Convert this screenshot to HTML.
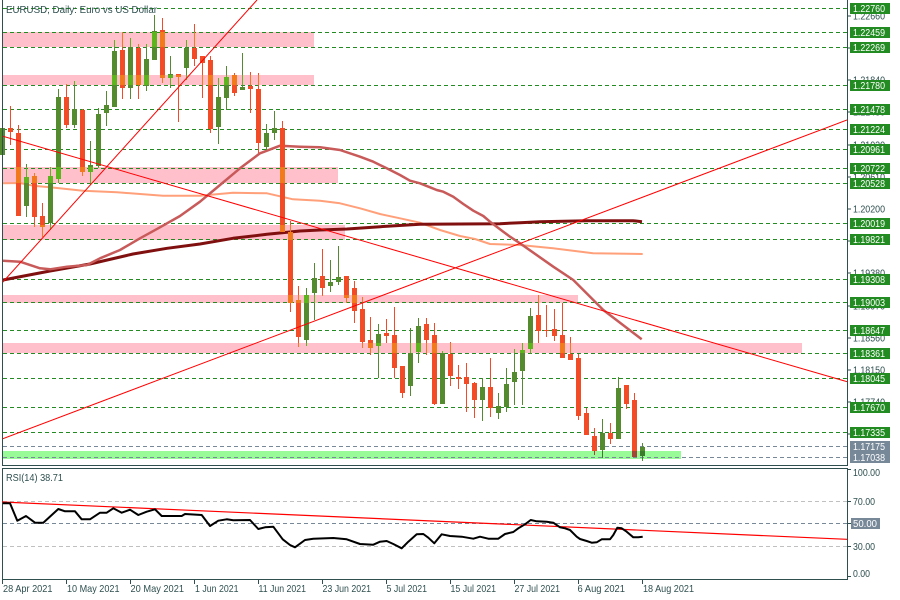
<!DOCTYPE html>
<html><head><meta charset="utf-8"><style>
html,body{margin:0;padding:0;background:#fff;}
svg{display:block;font-family:"Liberation Sans",sans-serif;}
.ax{fill:#2F4F4F;font-size:10px;}
.lb{fill:#fff;font-size:10px;}
.tm{fill:#2F4F4F;font-size:10.5px;}
</style></head><body>
<svg width="900" height="600" viewBox="0 0 900 600" xmlns="http://www.w3.org/2000/svg">
<defs>
<clipPath id="mainclip"><rect x="2" y="0" width="845" height="465"/></clipPath>
<clipPath id="rsiclip"><rect x="2" y="469" width="845" height="110"/></clipPath>
<clipPath id="pinkclip">
<rect x="2" y="32" width="312" height="15"/>
<rect x="2" y="75" width="312" height="10"/>
<rect x="2" y="167" width="336" height="16"/>
<rect x="2" y="225" width="343" height="15"/>
<rect x="2" y="295" width="576" height="8"/>
<rect x="2" y="343" width="800" height="10"/>
</clipPath>
<clipPath id="greenclip"><rect x="2" y="451" width="679" height="8"/></clipPath>
<g id="cd" shape-rendering="crispEdges">
<g>
<rect x="0" y="128" width="5" height="27"/><rect x="2" y="124" width="1" height="34"/>
<rect x="24" y="177" width="5" height="29"/><rect x="26" y="164" width="1" height="53"/>
<rect x="48" y="176" width="5" height="47"/><rect x="50" y="167" width="1" height="63"/>
<rect x="56" y="97" width="5" height="82"/><rect x="58" y="89" width="1" height="94"/>
<rect x="72" y="109" width="5" height="16"/><rect x="74" y="81" width="1" height="47"/>
<rect x="88" y="165" width="5" height="7"/><rect x="90" y="141" width="1" height="44"/>
<rect x="96" y="114" width="5" height="52"/><rect x="98" y="108" width="1" height="60"/>
<rect x="104" y="105" width="5" height="8"/><rect x="106" y="91" width="1" height="35"/>
<rect x="112" y="51" width="5" height="56"/><rect x="114" y="40" width="1" height="67"/>
<rect x="128" y="47" width="5" height="41"/><rect x="130" y="38" width="1" height="61"/>
<rect x="144" y="59" width="5" height="27"/><rect x="146" y="44" width="1" height="47"/>
<rect x="152" y="31" width="5" height="29"/><rect x="154" y="15" width="1" height="45"/>
<rect x="168" y="74" width="5" height="4"/><rect x="170" y="56" width="1" height="32"/>
<rect x="184" y="48" width="5" height="20"/><rect x="186" y="40" width="1" height="40"/>
<rect x="216" y="97" width="5" height="30"/><rect x="218" y="78" width="1" height="66"/>
<rect x="224" y="77" width="5" height="21"/><rect x="226" y="66" width="1" height="44"/>
<rect x="240" y="87" width="5" height="3"/><rect x="242" y="53" width="1" height="37"/>
<rect x="264" y="133" width="5" height="14"/><rect x="266" y="124" width="1" height="26"/>
<rect x="272" y="128" width="5" height="5"/><rect x="274" y="111" width="1" height="29"/>
<rect x="304" y="295" width="5" height="45"/><rect x="306" y="288" width="1" height="58"/>
<rect x="312" y="278" width="5" height="15"/><rect x="314" y="263" width="1" height="57"/>
<rect x="328" y="282" width="5" height="4"/><rect x="330" y="260" width="1" height="32"/>
<rect x="336" y="277" width="5" height="5"/><rect x="338" y="246" width="1" height="39"/>
<rect x="376" y="334" width="5" height="12"/><rect x="378" y="324" width="1" height="54"/>
<rect x="408" y="353" width="5" height="33"/><rect x="410" y="328" width="1" height="68"/>
<rect x="416" y="326" width="5" height="26"/><rect x="418" y="318" width="1" height="45"/>
<rect x="440" y="353" width="5" height="51"/><rect x="442" y="351" width="1" height="53"/>
<rect x="480" y="387" width="5" height="13"/><rect x="482" y="378" width="1" height="43"/>
<rect x="496" y="406" width="5" height="7"/><rect x="498" y="393" width="1" height="26"/>
<rect x="504" y="384" width="5" height="23"/><rect x="506" y="368" width="1" height="44"/>
<rect x="512" y="372" width="5" height="10"/><rect x="514" y="349" width="1" height="56"/>
<rect x="520" y="350" width="5" height="21"/><rect x="522" y="343" width="1" height="62"/>
<rect x="528" y="316" width="5" height="33"/><rect x="530" y="308" width="1" height="46"/>
<rect x="600" y="433" width="5" height="17"/><rect x="602" y="419" width="1" height="39"/>
<rect x="616" y="388" width="5" height="51"/><rect x="618" y="377" width="1" height="62"/>
<rect x="640" y="447" width="5" height="9"/><rect x="642" y="443" width="1" height="18"/>
</g>
<g fill="currentColor">
<rect x="8" y="128" width="5" height="4"/><rect x="10" y="106" width="1" height="39"/>
<rect x="16" y="133" width="5" height="83"/><rect x="18" y="125" width="1" height="91"/>
<rect x="32" y="176" width="5" height="41"/><rect x="34" y="173" width="1" height="54"/>
<rect x="40" y="216" width="5" height="11"/><rect x="42" y="203" width="1" height="34"/>
<rect x="64" y="97" width="5" height="28"/><rect x="66" y="84" width="1" height="44"/>
<rect x="80" y="110" width="5" height="62"/><rect x="82" y="109" width="1" height="67"/>
<rect x="120" y="50" width="5" height="38"/><rect x="122" y="32" width="1" height="67"/>
<rect x="136" y="48" width="5" height="37"/><rect x="138" y="44" width="1" height="55"/>
<rect x="160" y="30" width="5" height="48"/><rect x="162" y="18" width="1" height="65"/>
<rect x="176" y="74" width="5" height="3"/><rect x="178" y="74" width="1" height="48"/>
<rect x="192" y="48" width="5" height="11"/><rect x="194" y="24" width="1" height="42"/>
<rect x="200" y="56" width="5" height="7"/><rect x="202" y="56" width="1" height="42"/>
<rect x="208" y="60" width="5" height="69"/><rect x="210" y="56" width="1" height="77"/>
<rect x="232" y="75" width="5" height="18"/><rect x="234" y="73" width="1" height="23"/>
<rect x="248" y="86" width="5" height="3"/><rect x="250" y="72" width="1" height="41"/>
<rect x="256" y="89" width="5" height="54"/><rect x="258" y="73" width="1" height="80"/>
<rect x="280" y="128" width="5" height="104"/><rect x="282" y="121" width="1" height="111"/>
<rect x="288" y="232" width="5" height="71"/><rect x="290" y="221" width="1" height="91"/>
<rect x="296" y="300" width="5" height="37"/><rect x="298" y="286" width="1" height="61"/>
<rect x="320" y="276" width="5" height="12"/><rect x="322" y="249" width="1" height="47"/>
<rect x="344" y="276" width="5" height="22"/><rect x="346" y="276" width="1" height="27"/>
<rect x="352" y="288" width="5" height="23"/><rect x="354" y="281" width="1" height="42"/>
<rect x="360" y="309" width="5" height="33"/><rect x="362" y="297" width="1" height="51"/>
<rect x="368" y="340" width="5" height="8"/><rect x="370" y="317" width="1" height="38"/>
<rect x="384" y="333" width="5" height="3"/><rect x="386" y="319" width="1" height="24"/>
<rect x="392" y="335" width="5" height="33"/><rect x="394" y="307" width="1" height="71"/>
<rect x="400" y="366" width="5" height="27"/><rect x="402" y="366" width="1" height="32"/>
<rect x="424" y="324" width="5" height="16"/><rect x="426" y="318" width="1" height="37"/>
<rect x="432" y="335" width="5" height="69"/><rect x="434" y="323" width="1" height="82"/>
<rect x="448" y="354" width="5" height="22"/><rect x="450" y="342" width="1" height="44"/>
<rect x="456" y="377" width="5" height="2"/><rect x="458" y="365" width="1" height="24"/>
<rect x="464" y="377" width="5" height="7"/><rect x="466" y="363" width="1" height="49"/>
<rect x="472" y="383" width="5" height="17"/><rect x="474" y="382" width="1" height="36"/>
<rect x="488" y="387" width="5" height="21"/><rect x="490" y="358" width="1" height="59"/>
<rect x="536" y="315" width="5" height="16"/><rect x="538" y="295" width="1" height="48"/>
<rect x="544" y="330" width="5" height="1"/><rect x="546" y="305" width="1" height="32"/>
<rect x="552" y="329" width="5" height="7"/><rect x="554" y="309" width="1" height="32"/>
<rect x="560" y="335" width="5" height="23"/><rect x="562" y="303" width="1" height="55"/>
<rect x="568" y="354" width="5" height="6"/><rect x="570" y="337" width="1" height="23"/>
<rect x="576" y="358" width="5" height="58"/><rect x="578" y="354" width="1" height="66"/>
<rect x="584" y="413" width="5" height="22"/><rect x="586" y="408" width="1" height="27"/>
<rect x="592" y="436" width="5" height="15"/><rect x="594" y="428" width="1" height="27"/>
<rect x="608" y="433" width="5" height="6"/><rect x="610" y="423" width="1" height="21"/>
<rect x="624" y="385" width="5" height="19"/><rect x="626" y="385" width="1" height="24"/>
<rect x="632" y="400" width="5" height="57"/><rect x="634" y="393" width="1" height="64"/>
</g>
</g>
</defs>

<rect x="0" y="0" width="900" height="600" fill="#fff"/>

<!-- zones -->
<g fill="#FFC0CB" shape-rendering="crispEdges">
<rect x="2" y="32" width="312" height="15"/>
<rect x="2" y="75" width="312" height="10"/>
<rect x="2" y="167" width="336" height="16"/>
<rect x="2" y="225" width="343" height="15"/>
<rect x="2" y="295" width="576" height="8"/>
<rect x="2" y="343" width="800" height="10"/>
</g>
<rect x="2" y="451" width="679" height="8" fill="#98FB98" shape-rendering="crispEdges"/>

<!-- dashed level lines -->
<g stroke="#228B22" stroke-width="1" stroke-dasharray="4,3" shape-rendering="crispEdges">
<line x1="3" y1="8.5" x2="847" y2="8.5"/>
<line x1="3" y1="32.5" x2="847" y2="32.5"/>
<line x1="3" y1="47.5" x2="847" y2="47.5"/>
<line x1="3" y1="85.5" x2="847" y2="85.5"/>
<line x1="3" y1="109.5" x2="847" y2="109.5"/>
<line x1="3" y1="129.5" x2="847" y2="129.5"/>
<line x1="3" y1="149.5" x2="847" y2="149.5"/>
<line x1="3" y1="168.5" x2="847" y2="168.5"/>
<line x1="3" y1="183.5" x2="847" y2="183.5"/>
<line x1="3" y1="223.5" x2="847" y2="223.5"/>
<line x1="3" y1="239.5" x2="847" y2="239.5"/>
<line x1="3" y1="279.5" x2="847" y2="279.5"/>
<line x1="3" y1="302.5" x2="847" y2="302.5"/>
<line x1="3" y1="330.5" x2="847" y2="330.5"/>
<line x1="3" y1="353.5" x2="847" y2="353.5"/>
<line x1="3" y1="378.5" x2="847" y2="378.5"/>
<line x1="3" y1="407.5" x2="847" y2="407.5"/>
<line x1="3" y1="432.5" x2="847" y2="432.5"/>
</g>
<g stroke="#778899" stroke-width="1" stroke-dasharray="4,3" shape-rendering="crispEdges">
<line x1="3" y1="446.5" x2="847" y2="446.5"/>
<line x1="3" y1="457.5" x2="847" y2="457.5"/>
</g>

<g clip-path="url(#mainclip)" fill="none" stroke-linejoin="round">
<!-- moving averages -->
<polyline stroke="#FFA07A" stroke-width="2" points="3,183.3 20,183 33,185.7 50,187.3 83,190.7 117,192.3 163,195.7 200,195.7 233,192.7 267,193.3 293,199.3 320,200.7 340,203.3 360,208.3 380,214 400,218.3 420,222.7 440,230 460,236 475,239 490,244 520,245 553,248.3 593,253.3 642.7,254"/>
<polyline stroke="#801010" stroke-width="3" points="3,280 50,271 90,264 133,254 167,248.3 200,244 233,238.3 267,234.3 300,231 320,230 347,229 380,226.7 420,224.3 500,223.7 520,222.7 540,221.7 587,220.7 633,220.7 642,221.7"/>
<polyline stroke="#C85A5A" stroke-width="2.5" points="3,260.7 20,261.7 40,268.3 50,269.3 67,266.7 87,265 100,258.3 120,250 140,238.3 160,227.3 180,216 200,201.7 220,185 240,168.3 260,153.3 280,145.7 300,146.7 320,147.3 340,150 360,156.7 373.3,161.7 386.7,168.3 400,175 410,180.7 420,183.3 430,187.3 436.7,190 443.3,191.7 453.3,196.7 463.3,204 473.3,210.7 483.3,216 490,221.7 496.7,226.7 503.3,231.7 510,236.7 520,243.3 553.3,266.7 573.3,280 603.3,310 641.7,339.3"/>
</g>

<!-- candles -->
<use href="#cd" fill="#558B2F" color="#F24B26"/>
<use href="#cd" fill="#5CB51C" color="#F27A1A" clip-path="url(#pinkclip)"/>
<use href="#cd" fill="#3C7A2C" color="#A3463A" clip-path="url(#greenclip)"/>

<!-- trendlines -->
<g clip-path="url(#mainclip)" stroke="#FF0000" stroke-width="1" fill="none">
<line x1="2" y1="283" x2="257" y2="0"/>
<line x1="2" y1="136" x2="847" y2="381.7"/>
<line x1="2" y1="439" x2="847" y2="120"/>
</g>

<!-- frames -->
<g stroke="#2F4F4F" stroke-width="1" fill="none" shape-rendering="crispEdges">
<polyline points="2.5,0 2.5,465.5 847.5,465.5 847.5,0"/>
<rect x="2.5" y="468.5" width="845" height="111"/>
</g>

<text x="6" y="13" class="ax" textLength="151" lengthAdjust="spacingAndGlyphs">EURUSD, Daily:  Euro vs US Dollar</text>

<!-- price axis ticks -->
<g stroke="#2F4F4F" stroke-width="1" shape-rendering="crispEdges">
<line x1="847" y1="16" x2="851" y2="16"/>
<line x1="847" y1="48" x2="851" y2="48"/>
<line x1="847" y1="80" x2="851" y2="80"/>
<line x1="847" y1="112" x2="851" y2="112"/>
<line x1="847" y1="145" x2="851" y2="145"/>
<line x1="847" y1="177" x2="851" y2="177"/>
<line x1="847" y1="209" x2="851" y2="209"/>
<line x1="847" y1="241" x2="851" y2="241"/>
<line x1="847" y1="273" x2="851" y2="273"/>
<line x1="847" y1="306" x2="851" y2="306"/>
<line x1="847" y1="338" x2="851" y2="338"/>
<line x1="847" y1="370" x2="851" y2="370"/>
<line x1="847" y1="402" x2="851" y2="402"/>
<line x1="847" y1="434" x2="851" y2="434"/>
</g>
<g class="ax">
<text x="853" y="19.5" textLength="32" lengthAdjust="spacingAndGlyphs">1.22660</text>
<text x="853" y="51.5" textLength="32" lengthAdjust="spacingAndGlyphs">1.22250</text>
<text x="853" y="83.5" textLength="32" lengthAdjust="spacingAndGlyphs">1.21840</text>
<text x="853" y="115.5" textLength="32" lengthAdjust="spacingAndGlyphs">1.21430</text>
<text x="853" y="148.5" textLength="32" lengthAdjust="spacingAndGlyphs">1.21020</text>
<text x="853" y="180.5" textLength="32" lengthAdjust="spacingAndGlyphs">1.20610</text>
<text x="853" y="212.5" textLength="32" lengthAdjust="spacingAndGlyphs">1.20200</text>
<text x="853" y="244.5" textLength="32" lengthAdjust="spacingAndGlyphs">1.19790</text>
<text x="853" y="276.5" textLength="32" lengthAdjust="spacingAndGlyphs">1.19380</text>
<text x="853" y="309.5" textLength="32" lengthAdjust="spacingAndGlyphs">1.18970</text>
<text x="853" y="341.5" textLength="32" lengthAdjust="spacingAndGlyphs">1.18560</text>
<text x="853" y="373.5" textLength="32" lengthAdjust="spacingAndGlyphs">1.18150</text>
<text x="853" y="405.5" textLength="32" lengthAdjust="spacingAndGlyphs">1.17740</text>
<text x="853" y="437.5" textLength="32" lengthAdjust="spacingAndGlyphs">1.17330</text>
</g>

<!-- price labels -->
<g fill="#228B22" shape-rendering="crispEdges">
<rect x="850" y="3" width="40" height="11"/>
<rect x="850" y="27" width="40" height="11"/>
<rect x="850" y="42" width="40" height="11"/>
<rect x="850" y="80" width="40" height="11"/>
<rect x="850" y="104" width="40" height="11"/>
<rect x="850" y="124" width="40" height="11"/>
<rect x="850" y="144" width="40" height="11"/>
<rect x="850" y="163" width="40" height="11"/>
<rect x="850" y="178" width="40" height="11"/>
<rect x="850" y="218" width="40" height="11"/>
<rect x="850" y="234" width="40" height="11"/>
<rect x="850" y="274" width="40" height="11"/>
<rect x="850" y="297" width="40" height="11"/>
<rect x="850" y="325" width="40" height="11"/>
<rect x="850" y="348" width="40" height="11"/>
<rect x="850" y="373" width="40" height="11"/>
<rect x="850" y="402" width="40" height="11"/>
<rect x="850" y="427" width="40" height="11"/>
</g>
<g fill="#778899" shape-rendering="crispEdges">
<rect x="850" y="441" width="40" height="11"/>
<rect x="850" y="452" width="40" height="11"/>
</g>
<g class="lb">
<text x="853" y="12" textLength="32" lengthAdjust="spacingAndGlyphs">1.22760</text>
<text x="853" y="36" textLength="32" lengthAdjust="spacingAndGlyphs">1.22459</text>
<text x="853" y="51" textLength="32" lengthAdjust="spacingAndGlyphs">1.22269</text>
<text x="853" y="89" textLength="32" lengthAdjust="spacingAndGlyphs">1.21780</text>
<text x="853" y="113" textLength="32" lengthAdjust="spacingAndGlyphs">1.21478</text>
<text x="853" y="133" textLength="32" lengthAdjust="spacingAndGlyphs">1.21224</text>
<text x="853" y="153" textLength="32" lengthAdjust="spacingAndGlyphs">1.20961</text>
<text x="853" y="172" textLength="32" lengthAdjust="spacingAndGlyphs">1.20722</text>
<text x="853" y="187" textLength="32" lengthAdjust="spacingAndGlyphs">1.20528</text>
<text x="853" y="227" textLength="32" lengthAdjust="spacingAndGlyphs">1.20019</text>
<text x="853" y="243" textLength="32" lengthAdjust="spacingAndGlyphs">1.19821</text>
<text x="853" y="283" textLength="32" lengthAdjust="spacingAndGlyphs">1.19308</text>
<text x="853" y="306" textLength="32" lengthAdjust="spacingAndGlyphs">1.19003</text>
<text x="853" y="334" textLength="32" lengthAdjust="spacingAndGlyphs">1.18647</text>
<text x="853" y="357" textLength="32" lengthAdjust="spacingAndGlyphs">1.18361</text>
<text x="853" y="382" textLength="32" lengthAdjust="spacingAndGlyphs">1.18045</text>
<text x="853" y="411" textLength="32" lengthAdjust="spacingAndGlyphs">1.17670</text>
<text x="853" y="436" textLength="32" lengthAdjust="spacingAndGlyphs">1.17335</text>
<text x="853" y="450" textLength="32" lengthAdjust="spacingAndGlyphs">1.17175</text>
<text x="853" y="461" textLength="32" lengthAdjust="spacingAndGlyphs">1.17038</text>
</g>

<!-- RSI panel -->
<g stroke-width="1" stroke-dasharray="4,3" shape-rendering="crispEdges">
<line x1="3" y1="501.5" x2="847" y2="501.5" stroke="#C0C0C0"/>
<line x1="3" y1="523.5" x2="847" y2="523.5" stroke="#778899"/>
<line x1="3" y1="546.5" x2="847" y2="546.5" stroke="#C0C0C0"/>
</g>
<g clip-path="url(#rsiclip)" fill="none">
<line x1="2" y1="502" x2="847" y2="539.3" stroke="#FF0000" stroke-width="1.2"/>
<polyline stroke="#000" stroke-width="2" stroke-linejoin="round" points="2.7,503.3 10,503.3 17.3,520.7 26,516 35,522.7 43.3,522.7 58.3,509 65,511.3 75,511.3 81.7,519.3 90,519.3 100,512.7 106.7,512.7 113.3,508.3 121.7,512.7 130,509.7 138.3,515 146.7,511.7 155,509.3 161.7,516 181.7,516 185,514 201.7,515 210,526 218.3,520.7 226.7,519.3 233.3,520.3 250,520 258.3,529 265,527.3 273.3,526.7 282.7,539.3 290,545 295,547.3 305,540 313.3,538.7 333.3,538 346.7,539.3 360,544 373.3,544.7 380,541.7 386.7,541 393.3,544 401.7,548.3 408.3,541.7 416.7,534.3 423.3,534 428.3,537.7 434.3,543.3 441.7,534.3 450,536 461.7,536.7 473.3,538.7 480,536.7 488.3,538.7 498.3,538.7 505,534 513.3,532 518.3,528.3 525,524.3 530.7,520 536.7,521.3 546.7,521.7 553.3,522.7 560,527.3 565,528.3 570,530 576.7,536.7 580,539 586.7,541 591.7,542.7 596.7,542.3 601.7,539.3 610,539.3 613.3,535 617.3,527.7 621.7,528.3 626.7,531.7 633.3,537.3 638.3,537.3 642.7,536.7"/>
</g>
<text x="6" y="481" class="ax" textLength="57" lengthAdjust="spacingAndGlyphs">RSI(14) 38.71</text>

<g stroke="#2F4F4F" stroke-width="1" shape-rendering="crispEdges">
<line x1="847" y1="469.5" x2="851" y2="469.5"/>
<line x1="847" y1="501.5" x2="851" y2="501.5"/>
<line x1="847" y1="523.5" x2="851" y2="523.5"/>
<line x1="847" y1="546.5" x2="851" y2="546.5"/>
<line x1="847" y1="576.5" x2="851" y2="576.5"/>
</g>
<g class="ax">
<text x="853" y="476" textLength="27" lengthAdjust="spacingAndGlyphs">100.00</text>
<text x="853" y="505" textLength="22" lengthAdjust="spacingAndGlyphs">70.00</text>
<text x="853" y="550" textLength="22" lengthAdjust="spacingAndGlyphs">30.00</text>
<text x="853" y="577" textLength="17" lengthAdjust="spacingAndGlyphs">0.00</text>
</g>
<rect x="851" y="518" width="29" height="11" fill="#778899" shape-rendering="crispEdges"/>
<text x="853" y="527" class="lb" textLength="24" lengthAdjust="spacingAndGlyphs">50.00</text>

<!-- time axis -->
<g stroke="#2F4F4F" stroke-width="1" shape-rendering="crispEdges">
<line x1="2.5" y1="579" x2="2.5" y2="584"/>
<line x1="66.5" y1="579" x2="66.5" y2="584"/>
<line x1="130.5" y1="579" x2="130.5" y2="584"/>
<line x1="194.5" y1="579" x2="194.5" y2="584"/>
<line x1="258.5" y1="579" x2="258.5" y2="584"/>
<line x1="322.5" y1="579" x2="322.5" y2="584"/>
<line x1="386.5" y1="579" x2="386.5" y2="584"/>
<line x1="450.5" y1="579" x2="450.5" y2="584"/>
<line x1="514.5" y1="579" x2="514.5" y2="584"/>
<line x1="578.5" y1="579" x2="578.5" y2="584"/>
<line x1="642.5" y1="579" x2="642.5" y2="584"/>
</g>
<g class="tm">
<text x="3" y="592" textLength="49.5" lengthAdjust="spacingAndGlyphs">28 Apr 2021</text>
<text x="67" y="592" textLength="52.5" lengthAdjust="spacingAndGlyphs">10 May 2021</text>
<text x="130.5" y="592" textLength="53.5" lengthAdjust="spacingAndGlyphs">20 May 2021</text>
<text x="195" y="592" textLength="43.5" lengthAdjust="spacingAndGlyphs">1 Jun 2021</text>
<text x="258.5" y="592" textLength="47.5" lengthAdjust="spacingAndGlyphs">11 Jun 2021</text>
<text x="322.5" y="592" textLength="48.5" lengthAdjust="spacingAndGlyphs">23 Jun 2021</text>
<text x="386.5" y="592" textLength="40.5" lengthAdjust="spacingAndGlyphs">5 Jul 2021</text>
<text x="450.5" y="592" textLength="45.5" lengthAdjust="spacingAndGlyphs">15 Jul 2021</text>
<text x="514.5" y="592" textLength="45.5" lengthAdjust="spacingAndGlyphs">27 Jul 2021</text>
<text x="577.5" y="592" textLength="47.5" lengthAdjust="spacingAndGlyphs">6 Aug 2021</text>
<text x="643" y="592" textLength="51" lengthAdjust="spacingAndGlyphs">18 Aug 2021</text>
</g>
</svg>
</body></html>
